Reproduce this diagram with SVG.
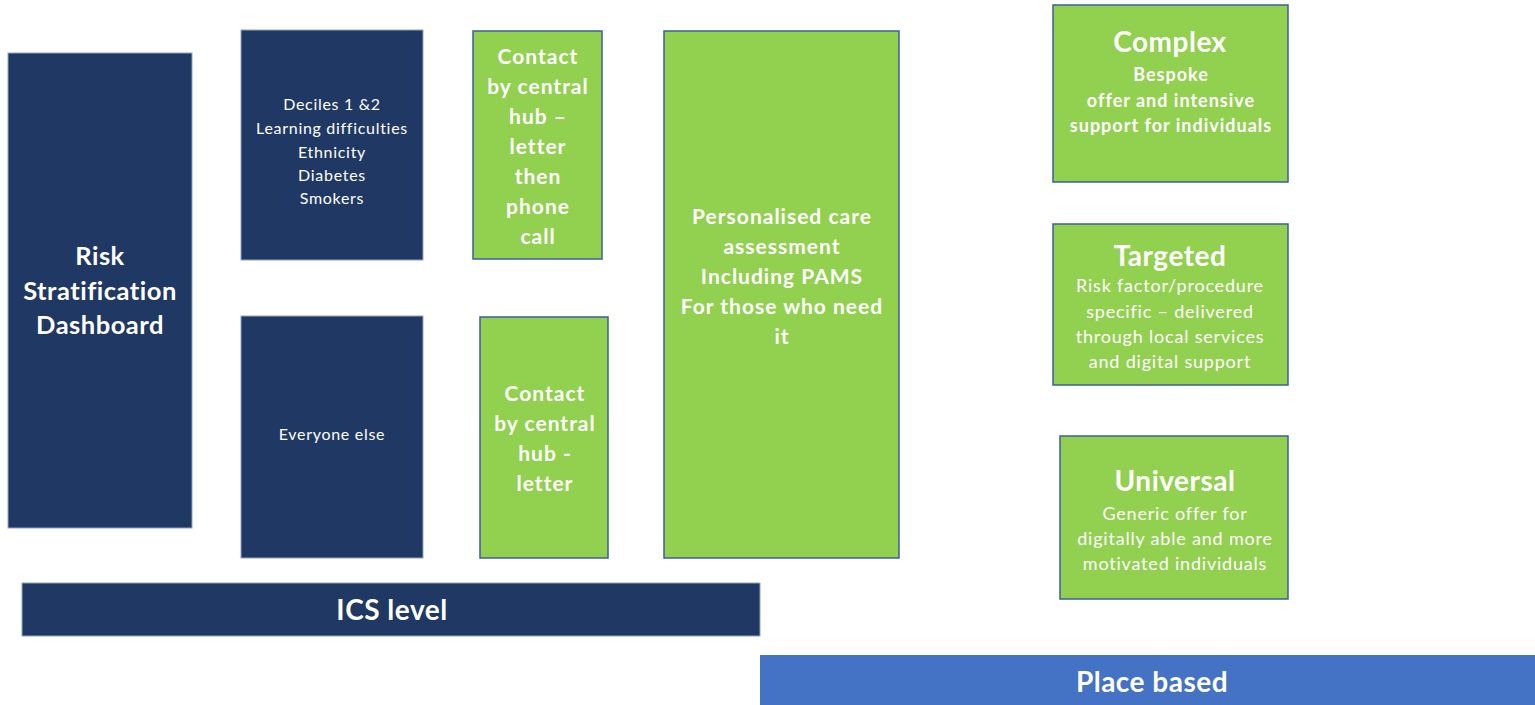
<svg xmlns="http://www.w3.org/2000/svg" width="1535" height="705" viewBox="0 0 1535 705">
  <style>
    .navy { fill: #203864; stroke: #8FA3C8; stroke-width: 1; }
    .green { fill: #92D050; stroke: #3C5F9A; stroke-width: 1.5; }
    .blue { fill: #4472C4; }
    text { font-family: Lato, "Open Sans", "Liberation Sans", sans-serif; fill: #FFFFFF; text-anchor: middle; }
    .b { font-weight: bold; }
    .t20 { font-size: 21px; letter-spacing: 1px; }
    .t24 { font-size: 25.5px; letter-spacing: 0.5px; }
    .t26 { font-size: 28px; letter-spacing: 0.5px; }
    .t15 { font-size: 16px; letter-spacing: 0.7px; }
    .t17 { font-size: 18px; letter-spacing: 0.8px; }
    .t17b { font-size: 18px; letter-spacing: 1px; font-weight: bold; }
  </style>
  <rect width="1535" height="705" fill="#FFFFFF"/>

  <g id="risk-dashboard">
    <rect class="navy" x="8" y="53" width="184" height="475"/>
    <text class="b t24" x="100" y="265">Risk</text>
    <text class="b t24" x="100" y="300">Stratification</text>
    <text class="b t24" x="100" y="334">Dashboard</text>
  </g>

  <g id="priority-groups">
    <rect class="navy" x="241" y="30" width="182" height="230"/>
    <text class="t15" x="332" y="110">Deciles 1 &amp;2</text>
    <text class="t15" x="332" y="134">Learning difficulties</text>
    <text class="t15" x="332" y="158">Ethnicity</text>
    <text class="t15" x="332" y="181">Diabetes</text>
    <text class="t15" x="332" y="204">Smokers</text>
  </g>

  <g id="everyone-else">
    <rect class="navy" x="241" y="316" width="182" height="242"/>
    <text class="t15" x="332" y="440">Everyone else</text>
  </g>

  <g id="contact-letter-phone">
    <rect class="green" x="473" y="31" width="129" height="228"/>
    <text class="b t20" x="538" y="64">Contact</text>
    <text class="b t20" x="538" y="94">by central</text>
    <text class="b t20" x="538" y="124">hub –</text>
    <text class="b t20" x="538" y="154">letter</text>
    <text class="b t20" x="538" y="184">then</text>
    <text class="b t20" x="538" y="214">phone</text>
    <text class="b t20" x="538" y="244">call</text>
  </g>

  <g id="contact-letter">
    <rect class="green" x="480" y="317" width="128" height="241"/>
    <text class="b t20" x="545" y="401">Contact</text>
    <text class="b t20" x="545" y="431">by central</text>
    <text class="b t20" x="545" y="461">hub -</text>
    <text class="b t20" x="545" y="491">letter</text>
  </g>

  <g id="personalised-care">
    <rect class="green" x="664" y="31" width="235" height="527"/>
    <text class="b t20" x="782" y="224">Personalised care</text>
    <text class="b t20" x="782" y="254">assessment</text>
    <text class="b t20" x="782" y="284">Including PAMS</text>
    <text class="b t20" x="782" y="314">For those who need</text>
    <text class="b t20" x="782" y="344">it</text>
  </g>

  <g id="complex">
    <rect class="green" x="1053" y="5" width="235" height="177"/>
    <text class="b t26" x="1170" y="52">Complex</text>
    <text class="t17b" x="1171" y="81">Bespoke</text>
    <text class="t17b" x="1171" y="107">offer and intensive</text>
    <text class="t17b" x="1171" y="132">support for individuals</text>
  </g>

  <g id="targeted">
    <rect class="green" x="1053" y="224" width="235" height="161"/>
    <text class="b t26" x="1170" y="266">Targeted</text>
    <text class="t17" x="1170" y="292">Risk factor/procedure</text>
    <text class="t17" x="1170" y="318">specific –  delivered</text>
    <text class="t17" x="1170" y="343">through local services</text>
    <text class="t17" x="1170" y="368">and digital support</text>
  </g>

  <g id="universal">
    <rect class="green" x="1060" y="436" width="228" height="163"/>
    <text class="b t26" x="1175" y="491">Universal</text>
    <text class="t17" x="1175" y="520">Generic offer for</text>
    <text class="t17" x="1175" y="545">digitally able and more</text>
    <text class="t17" x="1175" y="570">motivated individuals</text>
  </g>

  <g id="ics-level">
    <rect class="navy" x="22" y="583" width="738" height="53"/>
    <text class="b t26" x="392" y="620">ICS level</text>
  </g>

  <g id="place-based">
    <rect class="blue" x="760" y="655" width="775" height="50"/>
    <text class="b t26" x="1152" y="692">Place based</text>
  </g>

  <g id="connectors"/>
</svg>
